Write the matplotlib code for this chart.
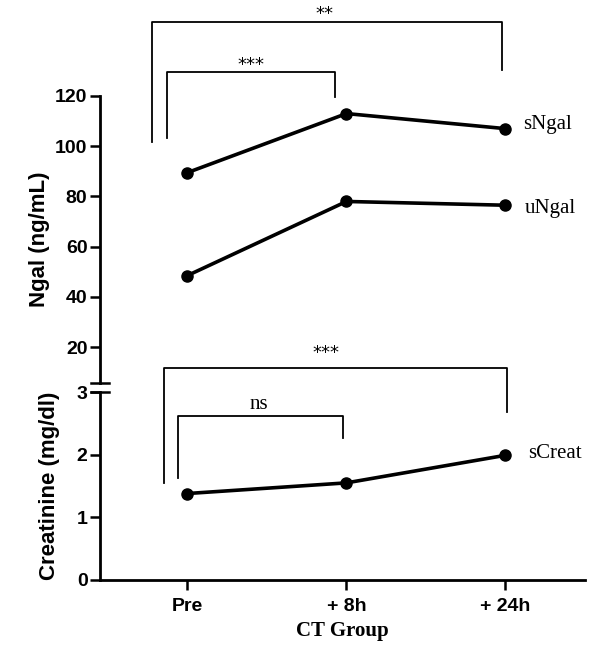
import matplotlib
matplotlib.use("Agg")
import matplotlib.pyplot as plt

# data
groups = ["Pre", "+ 8h", "+ 24h"]
sngal = [89.5, 113, 107]
ungal = [48.5, 78, 76.5]
screat = [1.38, 1.55, 1.99]

ngal_ticks = [20, 40, 60, 80, 100, 120]
creat_ticks = [0, 1, 2, 3]

SERIF = "Liberation Serif"
SANS = "Liberation Sans"

fig = plt.figure(figsize=(5.92, 6.5), dpi=100)
ax_top = fig.add_axes([100 / 592, 1 - 383 / 650, 485 / 592, (383 - 96) / 650])
ax_bot = fig.add_axes([100 / 592, 1 - 580 / 650, 485 / 592, (580 - 392) / 650])

x = list(range(len(groups)))
line_kw = dict(color="black", lw=2.6, marker="o", ms=8)

ax_top.plot(x, sngal, **line_kw, clip_on=False)
ax_top.plot(x, ungal, **line_kw, clip_on=False)
ax_bot.plot(x, screat, **line_kw, clip_on=False)

for ax in (ax_top, ax_bot):
    ax.set_xlim(-0.55, 2.5)
    for s in ("top", "right"):
        ax.spines[s].set_visible(False)
    ax.spines["left"].set_linewidth(2)
    ax.spines["bottom"].set_linewidth(2)
    ax.tick_params(axis="y", length=7, width=1.8, direction="out", pad=2)

ax_top.set_ylim(5.7, 120)
ax_top.set_yticks(ngal_ticks)
ax_top.spines["bottom"].set_visible(False)
ax_top.set_xticks([])

ax_bot.set_ylim(0, 3)
ax_bot.set_yticks(creat_ticks)
ax_bot.set_xticks(x)
ax_bot.set_xticklabels(groups)
ax_bot.tick_params(axis="x", length=7, width=1.8, pad=6)

for ax in (ax_top, ax_bot):
    for lab in ax.get_yticklabels() + ax.get_xticklabels():
        lab.set_fontfamily(SANS)
        lab.set_fontweight("bold")
        lab.set_fontsize(14)

# axis break marks
for ax, yb in ((ax_top, 0.0), (ax_bot, 1.0)):
    ax.plot([-0.018, 0.018], [yb, yb], transform=ax.transAxes, color="black",
            lw=1.8, clip_on=False)

ax_top.set_ylabel("Ngal (ng/mL)", fontfamily=SANS, fontweight="bold", fontsize=16, labelpad=4)
ax_bot.set_ylabel("Creatinine (mg/dl)", fontfamily=SANS, fontweight="bold", fontsize=16, labelpad=12)
ax_bot.set_xlabel("CT Group", fontfamily=SERIF, fontweight="bold", fontsize=15, labelpad=4)

# series names
ax_top.text(2.11, sngal[2] + 1.5, "sNgal", fontfamily=SERIF, fontsize=15, va="center", clip_on=False)
ax_top.text(2.12, ungal[2] - 1.5, "uNgal", fontfamily=SERIF, fontsize=15, va="center", clip_on=False)
ax_bot.text(2.14, screat[2] + 0.03, "sCreat", fontfamily=SERIF, fontsize=15, va="center", clip_on=False)


def bracket(ax, x0, x1, y_top, y0, y1, label, label_x, label_y, fs, family):
    ax.plot([x0, x0, x1, x1], [y0, y_top, y_top, y1], color="black", lw=1.3, clip_on=False)
    ax.text(label_x, label_y, label, ha="center", va="center", fontsize=fs,
            fontfamily=family, clip_on=False)


bracket(ax_top, -0.22, 1.98, 149.5, 101.5, 130.5, "**", 0.86, 152.5, 13, "DejaVu Sans")
bracket(ax_top, -0.13, 0.93, 129.6, 103.3, 119.6, "***", 0.4, 132.5, 13, "DejaVu Sans")
bracket(ax_bot, -0.15, 2.01, 3.38, 1.55, 2.68, "***", 0.87, 3.63, 13, "DejaVu Sans")
bracket(ax_bot, -0.06, 0.98, 2.62, 1.63, 2.26, "ns", 0.45, 2.8, 15, SERIF)

fig.savefig("out.png", dpi=100)
